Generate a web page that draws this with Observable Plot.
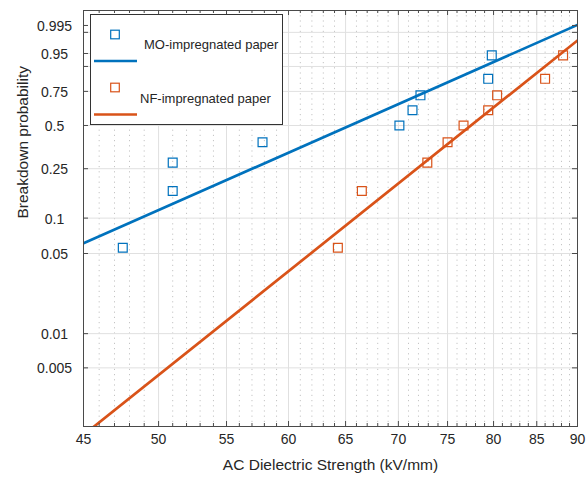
<!DOCTYPE html>
<html><head><meta charset="utf-8">
<script src="https://cdn.jsdelivr.net/npm/d3@7"></script>
<script src="https://cdn.jsdelivr.net/npm/@observablehq/plot@0.6"></script>
<style>
body{margin:0;background:#fff;font-family:"Liberation Sans",Arial,Helvetica,sans-serif;}
#wrap{position:relative;width:586px;height:480px;}
#legend{position:absolute;left:0;top:0;pointer-events:none;}
</style></head><body><div id="wrap"></div>
<script>
// ---- data ----
const moStrength = [47.55, 51.0, 51.0, 57.85, 70.1, 71.4, 72.2, 79.4, 79.8];
const moProb     = [0.056, 0.167, 0.278, 0.389, 0.5, 0.611, 0.722, 0.833, 0.944];
const nfStrength = [64.3, 66.5, 72.9, 75.0, 76.7, 79.4, 80.4, 86.0, 88.2];
const nfProb     = [0.056, 0.167, 0.278, 0.389, 0.5, 0.611, 0.722, 0.833, 0.944];
// fitted Weibull lines (end points)
const moFitStrength = [45, 90];
const moFitProb     = [0.0611, 0.9953];
const nfFitStrength = [45, 90];
const nfFitProb     = [0.00128, 0.9799];
// axes
const xMajor = [45, 50, 55, 60, 65, 70, 75, 80, 85, 90];
const xMinor = d3.range(46, 90).filter(v => v % 5 !== 0);
const yLabelProbs = [0.995, 0.95, 0.75, 0.5, 0.25, 0.1, 0.05, 0.01, 0.005];
const yTickProbs  = [0.995, 0.99, 0.95, 0.9, 0.75, 0.5, 0.25, 0.1, 0.05, 0.01, 0.005];
const yGridProbs  = [0.99, 0.95, 0.9, 0.75, 0.5, 0.25, 0.1, 0.05, 0.01, 0.005];
const yDomainProb = [0.00152, 0.99924];
const seriesNames = ["MO-impregnated paper", "NF-impregnated paper"];
const colors = ["#0072BD", "#D95319"];
const xLabel = "AC Dielectric Strength (kV/mm)";
const yLabel = "Breakdown probability";

// Weibull probability transform
const wb = p => Math.log(-Math.log(1 - p));

const W = 586, H = 480, mL = 83, mR = 9, mT = 10, mB = 54;
const fw = W - mL - mR, fh = H - mT - mB;
const axisColor = "#4a4a4a";

const mo = moStrength.map((x, i) => ({x, w: wb(moProb[i])}));
const nf = nfStrength.map((x, i) => ({x, w: wb(nfProb[i])}));
const moFit = moFitStrength.map((x, i) => ({x, w: wb(moFitProb[i])}));
const nfFit = nfFitStrength.map((x, i) => ({x, w: wb(nfFitProb[i])}));

const chart = Plot.plot({
  width: W, height: H,
  marginLeft: mL, marginRight: mR, marginTop: mT, marginBottom: mB,
  style: {fontFamily: '"Liberation Sans", Arial, sans-serif', color: "#262626", background: "#fff"},
  x: {type: "log", domain: [45, 90], axis: null},
  y: {type: "linear", domain: yDomainProb.map(wb), axis: null},
  marks: [
    // grid
    Plot.ruleX(xMinor, {stroke: "#c4c4c4", strokeDasharray: "1.2,4", strokeWidth: 1}),
    Plot.ruleX(xMajor, {stroke: "#e0e0e0", strokeWidth: 1}),
    Plot.ruleY(yGridProbs.map(wb), {stroke: "#e0e0e0", strokeWidth: 1}),
    // fitted lines
    Plot.line(moFit, {x: "x", y: "w", stroke: colors[0], strokeWidth: 2.7, clip: true}),
    Plot.line(nfFit, {x: "x", y: "w", stroke: colors[1], strokeWidth: 2.7, clip: true}),
    // data points
    Plot.dot(mo, {x: "x", y: "w", symbol: "square", r: 5, stroke: colors[0], strokeWidth: 1.2, fill: "none"}),
    Plot.dot(nf, {x: "x", y: "w", symbol: "square", r: 5, stroke: colors[1], strokeWidth: 1.2, fill: "none"}),
    // frame
    Plot.frame({stroke: axisColor, strokeWidth: 1}),
    // inward ticks
    Plot.ruleX(xMajor, {insetTop: fh - 5, stroke: axisColor}),
    Plot.ruleX(xMinor, {insetTop: fh - 3, stroke: axisColor}),
    Plot.ruleX(xMajor, {insetBottom: fh - 5, stroke: axisColor}),
    Plot.ruleX(xMinor, {insetBottom: fh - 3, stroke: axisColor}),
    Plot.ruleY(yTickProbs.map(wb), {insetRight: fw - 5, stroke: axisColor}),
    Plot.ruleY(yTickProbs.map(wb), {insetLeft: fw - 5, stroke: axisColor}),
    // tick labels
    Plot.text(xMajor, {x: d => d, frameAnchor: "bottom", dy: 17, text: d => String(d), fontSize: 14, fill: "#262626"}),
    Plot.text(yLabelProbs, {y: d => wb(d), frameAnchor: "left", dx: -29, dy: 1, textAnchor: "middle", text: d => String(d), fontSize: 14, fill: "#262626"}),
    // axis titles
    Plot.text([xLabel], {frameAnchor: "bottom", dy: 43, text: d => d, fontSize: 15.5, fill: "#262626"}),
    Plot.text([yLabel], {frameAnchor: "left", dx: -60, rotate: -90, text: d => d, fontSize: 15.5, fill: "#262626"})
  ]
});

const wrap = document.getElementById("wrap");
wrap.appendChild(chart);

// legend overlay
const ns = "http://www.w3.org/2000/svg";
const lg = document.createElementNS(ns, "svg");
lg.setAttribute("id", "legend");
lg.setAttribute("width", W); lg.setAttribute("height", H);
function el(tag, attrs, text) {
  const e = document.createElementNS(ns, tag);
  for (const k in attrs) e.setAttribute(k, attrs[k]);
  if (text) e.textContent = text;
  lg.appendChild(e);
  return e;
}
el("rect", {x: 90.5, y: 14.5, width: 192, height: 110, fill: "#fff", stroke: "#333", "stroke-width": 1});
const entries = [
  {sq: 34.5, line: 61, tx: 144, ty: 44.5},
  {sq: 87.5, line: 114.5, tx: 140, ty: 98}
];
entries.forEach((e, i) => {
  el("rect", {x: 115 - 4.3, y: e.sq - 4.3, width: 8.6, height: 8.6, fill: "none", stroke: colors[i], "stroke-width": 1.2});
  el("line", {x1: 94, x2: 137, y1: e.line, y2: e.line, stroke: colors[i], "stroke-width": 2.7});
  el("text", {x: e.tx, y: e.ty, "dominant-baseline": "central", "font-size": 13, fill: "#262626",
    "font-family": '"Liberation Sans", Arial, sans-serif'}, seriesNames[i]);
});
wrap.appendChild(lg);
</script>
</body></html>
